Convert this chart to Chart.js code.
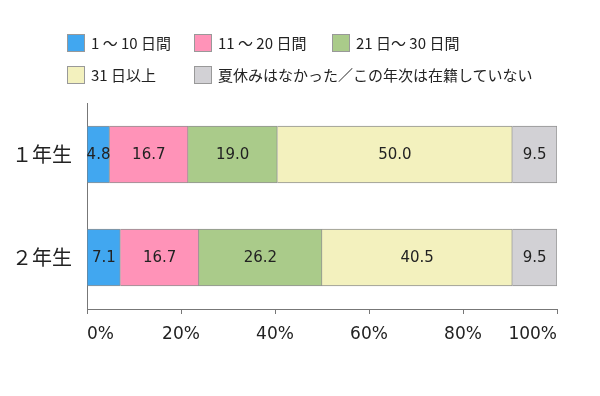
<!DOCTYPE html>
<html>
<head>
<meta charset="utf-8">
<script src="https://cdn.jsdelivr.net/npm/chart.js"></script>
<style>
  body { margin: 0; background: #fff; }
  #wrap { position: relative; width: 600px; height: 396px; }
  #legend { position: absolute; left: 0; top: 0; width: 600px; font-family: "Noto Sans CJK JP", "DejaVu Sans", sans-serif; font-size: 15px; color: #222; }
  .item { position: absolute; display: flex; align-items: center; white-space: nowrap; }
  .box { width: 18px; height: 18px; box-sizing: border-box; border: 1px solid #999; margin-right: 6px; }
</style>
</head>
<body>
<div id="wrap">
  <canvas id="chart" width="600" height="396"></canvas>
  <div id="legend"></div>
</div>
<script>
const grades = ['１年生', '２年生']
const seriesNames = ['1 ～ 10 日間', '11 ～ 20 日間', '21 日～ 30 日間', '31 日以上', '夏休みはなかった／この年次は在籍していない']
const days1to10 = [4.8, 7.1]
const days11to20 = [16.7, 16.7]
const days21to30 = [19.0, 26.2]
const days31plus = [50.0, 40.5]
const noVacation = [9.5, 9.5]
const xTicks = [0, 20, 40, 60, 80, 100]

const colors = ['#41A7F0', '#FF93B8', '#AACB8A', '#F3F1BE', '#D2D1D5']
const seriesValues = [days1to10, days11to20, days21to30, days31plus, noVacation]

// legend laid out in two rows like the original
const legendPos = [[67, 32], [194, 32], [332, 32], [67, 64], [194, 64]]
const legendEl = document.getElementById('legend')
seriesNames.forEach((name, i) => {
    const item = document.createElement('div')
    item.className = 'item'
    item.style.left = legendPos[i][0] + 'px'
    item.style.top = legendPos[i][1] + 'px'
    item.innerHTML = '<span class="box" style="background:' + colors[i] + '"></span><span>' + name + '</span>'
    legendEl.appendChild(item)
})

const valueLabels = {
    id: 'valueLabels',
    afterDatasetsDraw(chart) {
        const ctx = chart.ctx
        ctx.save()
        ctx.font = '15px "DejaVu Sans", sans-serif'
        ctx.fillStyle = '#222'
        ctx.textAlign = 'center'
        ctx.textBaseline = 'middle'
        chart.data.datasets.forEach((ds, i) => {
            chart.getDatasetMeta(i).data.forEach((bar, j) => {
                const p = bar.getCenterPoint()
                ctx.fillText(ds.data[j].toFixed(1), p.x, p.y + 1)
            })
        })
        ctx.restore()
    }
}

new Chart(document.getElementById('chart'), {
    type: 'bar',
    data: {
        labels: grades,
        datasets: seriesNames.map((name, i) => ({
            label: name,
            data: seriesValues[i],
            backgroundColor: colors[i],
            borderColor: '#929292',
            borderWidth: 1,
            barThickness: 57
        }))
    },
    options: {
        indexAxis: 'y',
        responsive: false,
        animation: false,
        layout: { padding: { top: 103, right: 43, left: 0, bottom: 0 } },
        plugins: { legend: { display: false }, tooltip: { enabled: false } },
        scales: {
            x: {
                stacked: true,
                min: 0,
                max: 100,
                afterBuildTicks: scale => { scale.ticks = xTicks.map(v => ({ value: v })) },
                afterFit: scale => { scale.height = 87 },
                border: { color: '#777', width: 1 },
                grid: { drawOnChartArea: false, drawTicks: true, tickLength: 5, color: '#777' },
                ticks: {
                    align: 'inner',
                    padding: 10,
                    color: '#222',
                    font: { family: '"DejaVu Sans", sans-serif', size: 17 },
                    callback: v => v + '%'
                }
            },
            y: {
                stacked: true,
                afterFit: scale => { scale.width = 87 },
                border: { color: '#777', width: 1 },
                grid: { display: false },
                ticks: {
                    padding: 7,
                    color: '#222',
                    font: { family: '"Noto Sans CJK JP", sans-serif', size: 20 }
                }
            }
        }
    },
    plugins: [valueLabels]
})
</script>
</body>
</html>
